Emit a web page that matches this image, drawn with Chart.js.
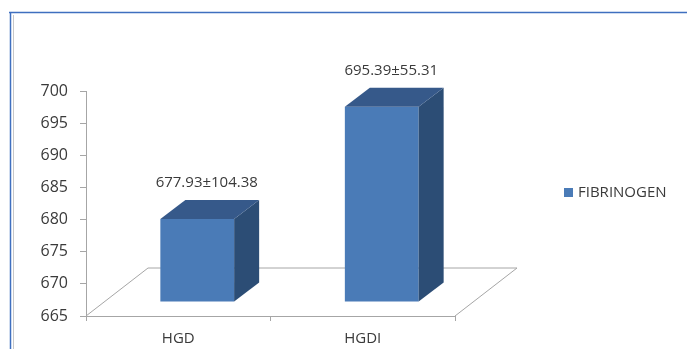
<!DOCTYPE html>
<html>
<head>
<meta charset="utf-8">
<script src="https://cdn.jsdelivr.net/npm/chart.js@4/dist/chart.umd.min.js"></script>
<style>
  html, body { margin: 0; padding: 0; background: #fff; }
  #wrap { width: 687px; height: 349px; position: relative; }
</style>
</head>
<body>
<div id="wrap"><canvas id="fChart"></canvas></div>
<script>
const categories = ['HGD', 'HGDI'];
const means = [677.93, 695.39];
const sds = [104.38, 55.31];
const seriesName = 'FIBRINOGEN';
const yMin = 665, yMax = 700, yStep = 5;

// 3d look of the old excel chart
const floorDx = 62, floorDy = -48;
const barDx = 19, barDy = -14;
const depthDx = 25, depthDy = -19;
const textColor = '#3a3a3a';
const fontFamily = "'Open Sans', 'Liberation Sans', sans-serif";

const frame = {
  id: 'frame',
  beforeDraw(chart) {
    const ctx = chart.ctx;
    ctx.save();
    ctx.fillStyle = '#fff';
    ctx.fillRect(0, 0, chart.width, chart.height);
    ctx.strokeStyle = '#3f6fbf';
    ctx.lineWidth = 1.5;
    ctx.beginPath();
    ctx.moveTo(9, 12.5); ctx.lineTo(chart.width, 12.5);
    ctx.moveTo(10.5, 12); ctx.lineTo(10.5, chart.height);
    ctx.stroke();
    ctx.strokeStyle = '#c8c8c8';
    ctx.lineWidth = 1;
    ctx.beginPath();
    ctx.moveTo(13.5, 15); ctx.lineTo(13.5, chart.height);
    ctx.stroke();
    ctx.restore();
  }
};

const floor3d = {
  id: 'floor3d',
  beforeDatasetsDraw(chart) {
    const a = chart.chartArea, ctx = chart.ctx;
    ctx.save();
    ctx.strokeStyle = '#a6a6a6';
    ctx.lineWidth = 1;
    ctx.beginPath();
    ctx.moveTo(a.left, a.bottom);
    ctx.lineTo(a.left + floorDx, a.bottom + floorDy);
    ctx.lineTo(a.right + floorDx, a.bottom + floorDy);
    ctx.lineTo(a.right, a.bottom);
    ctx.stroke();
    ctx.restore();
  },
  beforeDatasetDraw(chart) {
    chart.ctx.save();
    chart.ctx.translate(barDx, barDy);
  },
  afterDatasetDraw(chart, args) {
    const ctx = chart.ctx;
    args.meta.data.forEach((bar, i) => {
      const p = bar.getProps(['x', 'y', 'base', 'width'], true);
      const l = p.x - p.width / 2, r = p.x + p.width / 2;
      // side face
      ctx.fillStyle = '#2c4d75';
      ctx.beginPath();
      ctx.moveTo(r, p.y); ctx.lineTo(r + depthDx, p.y + depthDy);
      ctx.lineTo(r + depthDx, p.base + depthDy); ctx.lineTo(r, p.base);
      ctx.closePath(); ctx.fill();
      // top face
      ctx.fillStyle = '#36598a';
      ctx.beginPath();
      ctx.moveTo(l, p.y); ctx.lineTo(l + depthDx, p.y + depthDy);
      ctx.lineTo(r + depthDx, p.y + depthDy); ctx.lineTo(r, p.y);
      ctx.closePath(); ctx.fill();
      // value label
      ctx.fillStyle = textColor;
      ctx.font = '15px ' + fontFamily;
      ctx.textAlign = 'center';
      ctx.textBaseline = 'middle';
      ctx.fillText(means[i].toFixed(2) + '\u00b1' + sds[i].toFixed(2),
        p.x + depthDx / 2 - 3, p.y + depthDy - 17);
    });
    ctx.restore();
  }
};

const sideLegend = {
  id: 'sideLegend',
  afterDraw(chart) {
    const ctx = chart.ctx;
    const ds = chart.data.datasets[0];
    ctx.save();
    ctx.fillStyle = ds.backgroundColor;
    ctx.fillRect(564, 188, 9, 9);
    ctx.fillStyle = textColor;
    ctx.font = '15px ' + fontFamily;
    ctx.textBaseline = 'middle';
    ctx.fillText(ds.label, 578, 193);
    ctx.restore();
  }
};

new Chart(document.getElementById('fChart'), {
  type: 'bar',
  data: {
    labels: categories,
    datasets: [{
      label: seriesName,
      data: means,
      base: yMin,
      backgroundColor: '#4a7bb7',
      borderWidth: 0,
      barPercentage: 0.4,
      categoryPercentage: 1
    }]
  },
  options: {
    responsive: true,
    maintainAspectRatio: false,
    animation: false,
    layout: { padding: { left: 41, top: 91, right: 232, bottom: 0 } },
    plugins: { legend: { display: false }, tooltip: { enabled: false } },
    scales: {
      x: {
        afterFit: s => { s.height = 33; },
        border: { color: '#a6a6a6' },
        grid: { drawOnChartArea: false, tickLength: 5, color: '#a6a6a6' },
        ticks: { color: textColor, padding: 9, font: { size: 15, family: fontFamily } }
      },
      y: {
        min: yMin, max: yMax,
        afterFit: s => { s.width = 45; },
        border: { color: '#a6a6a6' },
        grid: { drawOnChartArea: false, tickLength: 6, color: '#a6a6a6' },
        ticks: { stepSize: yStep, color: textColor, padding: 12, font: { size: 16, family: fontFamily } }
      }
    }
  },
  plugins: [frame, floor3d, sideLegend]
});
</script>
</body>
</html>
